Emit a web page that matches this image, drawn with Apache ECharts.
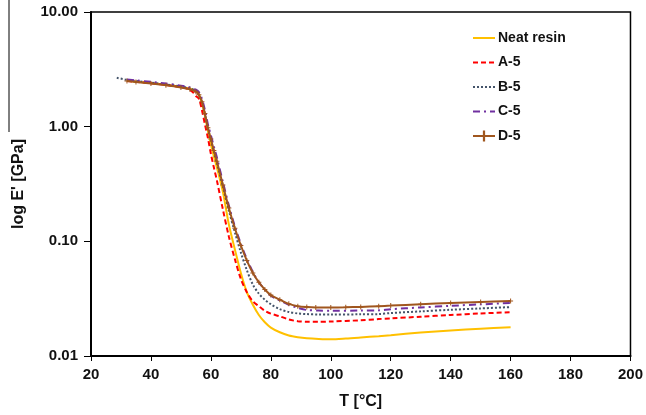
<!DOCTYPE html>
<html>
<head>
<meta charset="utf-8">
<script src="https://cdn.jsdelivr.net/npm/echarts@6/dist/echarts.min.js"></script>
<style>
  html, body { margin: 0; padding: 0; background: #fff; }
  #chart { width: 646px; height: 415px; }
</style>
</head>
<body>
<div id="chart"></div>
<script>
// 温度 (°C) 与储能模量 E' (GPa)
const tNeat = [32, 35, 40, 45, 50, 53, 55, 56, 57, 58, 59, 60, 61, 62, 64, 66, 68, 70, 72, 74, 76, 78, 80, 83, 86, 89, 92, 96, 100, 105, 110, 116, 120, 130, 140, 150, 160];
const eNeat = [2.52, 2.47, 2.4, 2.32, 2.22, 2.14, 2.05, 1.9, 1.62, 1.25, 0.92, 0.7, 0.55, 0.44, 0.27, 0.14, 0.085, 0.053, 0.036, 0.028, 0.0228, 0.0197, 0.0177, 0.0161, 0.0151, 0.0146, 0.0143, 0.0141, 0.014, 0.0142, 0.0145, 0.0149, 0.0152, 0.016, 0.0167, 0.0173, 0.0178];

const tA5 = [32, 35, 40, 45, 50, 52, 54, 55, 56, 57, 58, 59, 60, 61, 62, 64, 66, 68, 70, 72, 74, 76, 78, 80, 83, 86, 89, 92, 96, 100, 110, 116, 120, 130, 140, 150, 160];
const eA5 = [2.5, 2.46, 2.39, 2.31, 2.21, 2.15, 2.0, 1.85, 1.75, 1.4, 1.05, 0.8, 0.58, 0.44, 0.34, 0.19, 0.11, 0.07, 0.047, 0.036, 0.03, 0.0272, 0.0248, 0.0234, 0.0222, 0.0208, 0.0201, 0.0199, 0.0199, 0.02, 0.0205, 0.021, 0.0213, 0.022, 0.0228, 0.0235, 0.0241];

const tB5 = [28.6, 32, 35, 40, 45, 50, 53, 55, 56, 57, 58, 59, 60, 61, 62, 64, 66, 68, 70, 72, 74, 76, 78, 80, 83, 86, 89, 92, 96, 100, 110, 116, 120, 130, 140, 150, 160];
const eB5 = [2.67, 2.56, 2.5, 2.42, 2.34, 2.24, 2.16, 2.05, 1.9, 1.65, 1.28, 0.96, 0.76, 0.6, 0.48, 0.3, 0.185, 0.12, 0.08, 0.056, 0.042, 0.035, 0.031, 0.0283, 0.0256, 0.0242, 0.0235, 0.0232, 0.023, 0.023, 0.0231, 0.0232, 0.0237, 0.0245, 0.0253, 0.026, 0.0267];

const tC5 = [32, 35, 40, 45, 50, 53, 55, 56, 57, 58, 59, 60, 61, 62, 64, 66, 68, 70, 72, 74, 76, 78, 80, 83, 86, 89, 92, 96, 100, 110, 116, 120, 130, 140, 150, 160];
const eC5 = [2.58, 2.53, 2.46, 2.38, 2.28, 2.2, 2.1, 2.0, 1.75, 1.4, 1.05, 0.84, 0.67, 0.54, 0.33, 0.205, 0.135, 0.095, 0.07, 0.054, 0.044, 0.038, 0.0335, 0.0305, 0.028, 0.0263, 0.0252, 0.0249, 0.0248, 0.0249, 0.025, 0.0256, 0.0265, 0.0274, 0.0282, 0.029];

const tD5 = [32, 35, 40, 45, 50, 53, 55, 56, 57, 58, 59, 60, 61, 62, 64, 66, 68, 70, 72, 74, 76, 78, 80, 83, 86, 89, 92, 95, 100, 105, 110, 116, 120, 130, 140, 150, 160];
const eD5 = [2.5, 2.45, 2.38, 2.3, 2.2, 2.12, 2.02, 1.9, 1.65, 1.3, 0.98, 0.78, 0.62, 0.5, 0.31, 0.195, 0.13, 0.092, 0.068, 0.053, 0.044, 0.038, 0.034, 0.031, 0.0285, 0.0272, 0.0267, 0.0265, 0.0265, 0.0266, 0.0268, 0.0272, 0.0275, 0.0283, 0.029, 0.0296, 0.0301];

// 坐标轴刻度标签
const yTickLabels = { 10: '10.00', 1: '1.00', 0.1: '0.10', 0.01: '0.01' };
const seriesNames = ['Neat resin', 'A-5', 'B-5', 'C-5', 'D-5'];

const pairs = (t, e) => t.map((v, i) => [v, e[i]]);
const font = 'Liberation Sans';
const plusPath = 'path://M4,0h2v4h4v2h-4v4h-2v-4h-4v-2h4z';

const chart = echarts.init(document.getElementById('chart'));

chart.setOption({
  animation: false,
  textStyle: { fontFamily: font },
  grid: {
    left: 91,
    right: 14,
    top: 12,
    bottom: 58,
    show: true,
    borderColor: '#000',
    borderWidth: 1.5,
  },
  legend: {
    orient: 'vertical',
    left: 472,
    top: 31,
    padding: 0,
    itemWidth: 22,
    itemHeight: 14,
    itemGap: 10.5,
    textStyle: { fontFamily: font, fontWeight: 'bold', fontSize: 14, color: '#111', padding: [0, 0, 0, -2] },
    // 只有 D-5 在图例中显示标记
    data: seriesNames.map((n) =>
      n === 'D-5' ? { name: n } : { name: n, itemStyle: { opacity: 0 } },
    ),
  },
  xAxis: {
    type: 'value',
    min: 20,
    max: 200,
    interval: 20,
    name: 'T [°C]',
    nameLocation: 'middle',
    nameGap: 38,
    nameTextStyle: { fontFamily: font, fontWeight: 'bold', fontSize: 16, color: '#111' },
    axisLine: { lineStyle: { color: '#000', width: 2 } },
    axisTick: { show: true, length: 5, lineStyle: { color: '#000', width: 1 } },
    axisLabel: { fontFamily: font, fontWeight: 'bold', fontSize: 15, color: '#111', margin: 11 },
    splitLine: { show: false },
  },
  yAxis: {
    type: 'log',
    logBase: 10,
    min: 0.01,
    max: 10,
    name: "log E' [GPa]",
    nameLocation: 'middle',
    nameGap: 64,
    nameTextStyle: { fontFamily: font, fontWeight: 'bold', fontSize: 16, color: '#111' },
    axisLine: { show: true, lineStyle: { color: '#000', width: 2 } },
    axisTick: { show: true, length: 7, lineStyle: { color: '#000', width: 1 } },
    axisLabel: {
      fontFamily: font,
      fontWeight: 'bold',
      fontSize: 15,
      color: '#111',
      margin: 13,
      formatter: (v) => yTickLabels[Number(v.toPrecision(3))] || '',
    },
    splitLine: { show: false },
    minorTick: { show: false },
  },
  graphic: [
    {
      type: 'line',
      shape: { x1: 9, y1: 0, x2: 9, y2: 132 },
      style: { stroke: '#000', lineWidth: 1 },
    },
  ],
  series: [
    {
      name: 'Neat resin',
      type: 'line',
      smooth: 0.3,
      showSymbol: false,
      symbol: 'none',
      lineStyle: { color: '#FFC000', width: 2 },
      itemStyle: { color: '#FFC000' },
      data: pairs(tNeat, eNeat),
    },
    {
      name: 'A-5',
      type: 'line',
      smooth: 0.3,
      showSymbol: false,
      symbol: 'none',
      lineStyle: { color: '#FF0000', width: 2, type: [5, 3] },
      itemStyle: { color: '#FF0000' },
      data: pairs(tA5, eA5),
    },
    {
      name: 'B-5',
      type: 'line',
      smooth: 0.3,
      showSymbol: false,
      symbol: 'none',
      lineStyle: { color: '#44546A', width: 2, type: [2, 2] },
      itemStyle: { color: '#44546A' },
      data: pairs(tB5, eB5),
    },
    {
      name: 'C-5',
      type: 'line',
      smooth: 0.3,
      showSymbol: false,
      symbol: 'none',
      lineStyle: { color: '#7030A0', width: 2, type: [7, 4, 2, 4] },
      itemStyle: { color: '#7030A0' },
      data: pairs(tC5, eC5),
    },
    {
      name: 'D-5',
      type: 'line',
      smooth: 0.3,
      symbol: plusPath,
      symbolSize: 5,
      showSymbol: true,
      lineStyle: { color: '#A0561E', width: 2 },
      itemStyle: { color: '#A0561E' },
      data: pairs(tD5, eD5),
    },
  ],
});
</script>
</body>
</html>
